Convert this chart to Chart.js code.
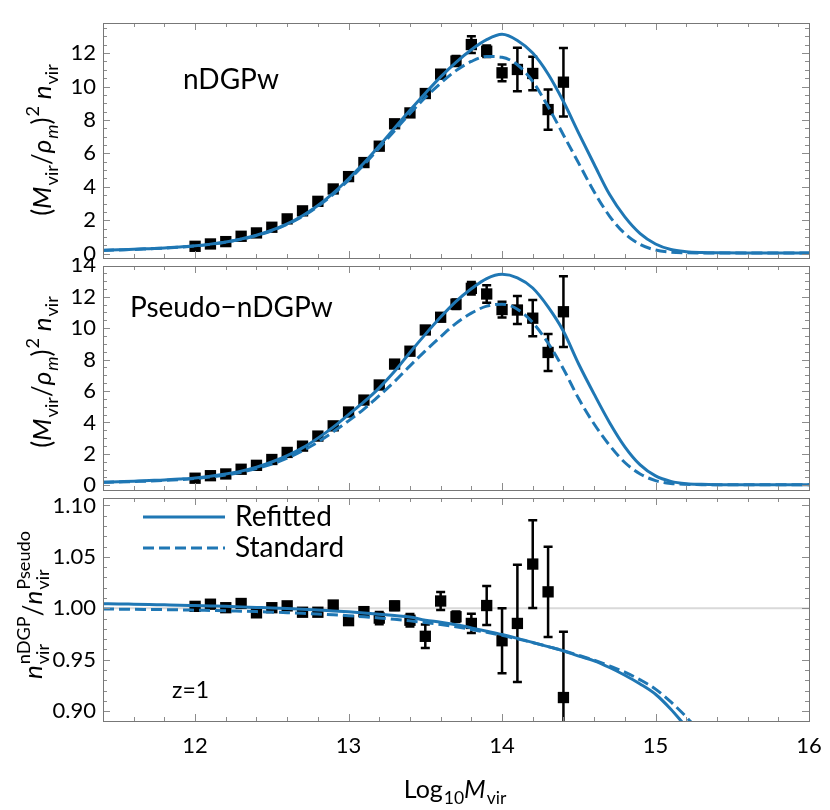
<!DOCTYPE html>
<html>
<head>
<meta charset="utf-8">
<script src="https://cdn.jsdelivr.net/npm/chart.js@4.4.1/dist/chart.umd.min.js"></script>
<style>
  body { margin: 0; background: #fff; }
  #wrap { position: relative; width: 830px; height: 810px; }
  #wrap canvas { position: absolute; left: 0; }
</style>
</head>
<body>
<div id="wrap">
  <canvas id="ratioChart" width="830" height="320" style="top:490px;z-index:1"></canvas>
  <canvas id="pseudoChart" width="830" height="246" style="top:258px;z-index:2"></canvas>
  <canvas id="ndgpChart" width="830" height="272" style="top:0;z-index:3"></canvas>
</div>
<script>
// dados medidos (pontos com barras de erro)
const massX = [12.0, 12.1, 12.2, 12.3, 12.4, 12.5, 12.6, 12.7, 12.8, 12.9, 13.0, 13.1, 13.2,
               13.3, 13.4, 13.5, 13.6, 13.7, 13.8, 13.9, 14.0, 14.1, 14.2, 14.3, 14.4];
const nDGPwVals = [0.44, 0.58, 0.72, 1.04, 1.24, 1.58, 2.08, 2.56, 3.13, 3.87, 4.61, 5.45, 6.43,
                   7.77, 8.42, 9.58, 10.74, 11.52, 12.51, 12.11, 10.82, 11.02, 10.78, 8.62, 10.26];
const nDGPwErr = [0.03, 0.03, 0.04, 0.04, 0.05, 0.05, 0.06, 0.07, 0.08, 0.09, 0.1, 0.11, 0.13,
                  0.15, 0.17, 0.2, 0.24, 0.3, 0.5, 0.35, 0.5, 1.3, 1.0, 1.2, 2.05];
const pseudoVals = [0.45, 0.61, 0.72, 1.02, 1.27, 1.64, 2.09, 2.49, 3.13, 3.78, 4.66, 5.42, 6.38,
                    7.71, 8.53, 9.88, 10.69, 11.52, 12.53, 12.17, 11.18, 11.15, 10.63, 8.45, 11.04];
const pseudoErr = [0.03, 0.03, 0.04, 0.04, 0.05, 0.05, 0.06, 0.07, 0.08, 0.09, 0.1, 0.11, 0.13,
                   0.15, 0.17, 0.2, 0.24, 0.3, 0.4, 0.55, 0.5, 0.89, 1.15, 1.18, 2.25];
const ratioVals = [1.0019, 1.0040, 1.0006, 1.0047, 0.9956, 1.0006, 1.0024, 0.9962, 0.9962, 1.0032,
                   0.9880, 0.9968, 0.9905, 1.0024, 0.9884, 0.9728, 1.0071, 0.9918, 0.9853, 1.0027,
                   0.9685, 0.9853, 1.0430, 1.0160, 0.9133];
const ratioErr = [0.002, 0.002, 0.002, 0.002, 0.002, 0.002, 0.002, 0.002, 0.002, 0.002,
                  0.003, 0.003, 0.006, 0.004, 0.006, 0.0114, 0.0088, 0.005, 0.0094, 0.019,
                  0.0316, 0.057, 0.0427, 0.0438, 0.064];

// curvas (ajuste)
const curveX = [11.4, 11.5, 11.6, 11.7, 11.8, 11.9, 12.0, 12.1, 12.2, 12.3, 12.4, 12.5, 12.6, 12.7,
                12.8, 12.9, 13.0, 13.1, 13.2, 13.3, 13.4, 13.5, 13.6, 13.7, 13.8, 13.9, 14.0, 14.1,
                14.2, 14.3, 14.4, 14.5, 14.6, 14.7, 14.8, 14.9, 15.0, 15.1, 15.2, 15.3, 15.4, 15.6,
                15.8, 16.0];
const refitTop = [0.20, 0.23, 0.26, 0.30, 0.34, 0.40, 0.47, 0.57, 0.70, 0.88, 1.10, 1.40, 1.78, 2.27,
                  2.88, 3.62, 4.48, 5.42, 6.45, 7.52, 8.58, 9.60, 10.58, 11.45, 12.20, 12.80, 13.12,
                  12.75, 12.00, 10.75, 9.10, 7.20, 5.35, 3.55, 2.20, 1.20, 0.58, 0.25, 0.12, 0.07,
                  0.05, 0.04, 0.04, 0.04];
const standardTop = [0.19, 0.22, 0.25, 0.29, 0.33, 0.39, 0.46, 0.56, 0.69, 0.86, 1.08, 1.37, 1.75, 2.23,
                     2.83, 3.55, 4.40, 5.32, 6.32, 7.36, 8.38, 9.34, 10.20, 10.95, 11.50, 11.80, 11.75,
                     11.30, 10.30, 8.80, 7.10, 5.40, 3.70, 2.25, 1.20, 0.55, 0.22, 0.09, 0.05, 0.04,
                     0.04, 0.04, 0.04, 0.04];
const refitMid = [0.20, 0.23, 0.26, 0.30, 0.34, 0.40, 0.47, 0.58, 0.72, 0.90, 1.15, 1.48, 1.88, 2.38,
                  3.00, 3.70, 4.50, 5.30, 6.20, 7.25, 8.45, 9.60, 10.70, 11.70, 12.50, 13.15, 13.42,
                  13.20, 12.55, 11.35, 9.80, 7.70, 5.80, 4.00, 2.45, 1.30, 0.60, 0.25, 0.10, 0.06,
                  0.04, 0.03, 0.03, 0.03];
const standardMid = [0.19, 0.21, 0.24, 0.27, 0.31, 0.36, 0.43, 0.53, 0.66, 0.83, 1.06, 1.35, 1.72, 2.20,
                     2.75, 3.40, 4.10, 4.85, 5.70, 6.60, 7.60, 8.55, 9.45, 10.30, 10.95, 11.40, 11.52,
                     11.20, 10.35, 9.05, 7.40, 5.50, 3.90, 2.55, 1.45, 0.72, 0.30, 0.12, 0.06, 0.04,
                     0.03, 0.03, 0.03, 0.03];
const refitRatio = [1.0045, 1.0043, 1.0040, 1.0037, 1.0034, 1.0031, 1.0027, 1.0023, 1.0019, 1.0014,
                    1.0009, 1.0004, 0.9998, 0.9991, 0.9983, 0.9975, 0.9966, 0.9955, 0.9943, 0.9930,
                    0.9915, 0.9885, 0.9865, 0.9840, 0.9810, 0.9778, 0.9745, 0.9708, 0.9668, 0.9628,
                    0.9587, 0.9535, 0.9490, 0.9425, 0.9350, 0.9265, 0.9165, 0.9020, 0.8850, 0.8700,
                    0.8550, 0.8200, 0.7800, 0.7400];
const standardRatio = [0.9993, 0.9992, 0.9991, 0.9989, 0.9987, 0.9985, 0.9982, 0.9979, 0.9976, 0.9972,
                       0.9968, 0.9963, 0.9958, 0.9952, 0.9945, 0.9937, 0.9928, 0.9918, 0.9906, 0.9893,
                       0.9878, 0.9861, 0.9842, 0.9820, 0.9795, 0.9767, 0.9737, 0.9703, 0.9667, 0.9628,
                       0.9588, 0.9543, 0.9495, 0.9440, 0.9380, 0.9305, 0.9215, 0.9090, 0.8945, 0.8780,
                       0.8600, 0.8300, 0.7900, 0.7500];

// eixos
const xTicks = [12, 13, 14, 15, 16];
const yTicksTop = [0, 2, 4, 6, 8, 10, 12];
const yTicksMid = [0, 2, 4, 6, 8, 10, 12, 14];
const yTicksRatio = [0.90, 0.95, 1.00, 1.05, 1.10];
const legendLabels = ['Refitted', 'Standard'];
const panelLabels = ['nDGPw', 'Pseudo\u2212nDGPw', 'z=1'];

const BLUE = '#1f77b4';
const FONT = 'Lato, "DejaVu Sans", sans-serif';
Chart.defaults.font.family = FONT;

function pts(xs, ys) {
    return xs.map((x, i) => ({ x: x, y: ys[i] }));
}

function fontStr(size, italic) {
    return (italic ? 'italic ' : '') + size + 'px ' + FONT;
}

// texto com sub/sobrescrito
function rich(ctx, parts, size, draw) {
    let x = 0;
    parts.forEach(p => {
        if (p.t !== undefined) {
            ctx.font = fontStr(size, p.it);
            if (draw) ctx.fillText(p.t, x, 0);
            x += ctx.measureText(p.t).width;
        } else {
            const s = size * 0.7;
            let w = 0;
            if (p.sub) {
                ctx.font = fontStr(s, p.subIt);
                if (draw) ctx.fillText(p.sub, x + 1, size * 0.25);
                w = Math.max(w, ctx.measureText(p.sub).width + 1);
            }
            if (p.sup) {
                ctx.font = fontStr(s, false);
                if (draw) ctx.fillText(p.sup, x + 1, -size * 0.45);
                w = Math.max(w, ctx.measureText(p.sup).width + 1);
            }
            x += w;
        }
    });
    return x;
}

function richCentered(ctx, parts, size, cx, cy, rotate) {
    ctx.save();
    ctx.fillStyle = '#000';
    ctx.textBaseline = 'alphabetic';
    ctx.textAlign = 'left';
    ctx.translate(cx, cy);
    if (rotate) ctx.rotate(-Math.PI / 2);
    const w = rich(ctx, parts, size, false);
    ctx.translate(-w / 2, 0);
    rich(ctx, parts, size, true);
    ctx.restore();
}

const ylabelMain = [{ t: '(' }, { t: 'M', it: true }, { sub: 'vir' }, { t: '/' }, { t: '\u03c1', it: true },
                    { sub: 'm', subIt: true }, { t: ')' }, { sup: '2' }, { t: ' ' }, { t: 'n', it: true }, { sub: 'vir' }];
const ylabelRatio = [{ t: 'n', it: true }, { sub: 'vir', sup: 'nDGP' }, { t: '/' }, { t: 'n', it: true },
                     { sub: 'vir', sup: 'Pseudo' }];
const xlabel = [{ t: 'Log' }, { sub: '10' }, { t: 'M', it: true }, { sub: 'vir' }];

function steps(min, max, step) {
    const out = [];
    for (let k = Math.ceil(min / step - 1e-6); k <= Math.floor(max / step + 1e-6); k++) out.push(k * step);
    return out;
}

function drawFrame(chart, o) {
    const { ctx, chartArea: a, scales: { x, y } } = chart;
    const isMajor = (v, list) => list.some(t => Math.abs(t - v) < 1e-6);
    ctx.save();
    ctx.strokeStyle = '#8c8c8c';
    ctx.lineWidth = 1;
    ctx.beginPath();
    steps(x.min, x.max, 0.2).forEach(v => {
        const L = isMajor(v, xTicks) ? 7 : 4;
        const px = Math.round(x.getPixelForValue(v)) + 0.5;
        ctx.moveTo(px, a.bottom); ctx.lineTo(px, a.bottom - L);
        ctx.moveTo(px, a.top); ctx.lineTo(px, a.top + L);
    });
    steps(y.min, y.max, o.yMinor).forEach(v => {
        const L = isMajor(v, o.yTicks) ? 7 : 4;
        const py = Math.round(y.getPixelForValue(v)) + 0.5;
        ctx.moveTo(a.left, py); ctx.lineTo(a.left + L, py);
        ctx.moveTo(a.right, py); ctx.lineTo(a.right - L, py);
    });
    ctx.stroke();
    ctx.strokeStyle = '#777';
    ctx.strokeRect(Math.round(a.left) + 0.5, Math.round(a.top) + 0.5,
                   Math.round(a.right - a.left), Math.round(a.bottom - a.top));
    ctx.restore();
}

function panel(id, o) {
    const extras = {
        id: 'extras_' + id,
        beforeDatasetsDraw(chart) {
            const { ctx, chartArea: a, scales: { x, y } } = chart;
            ctx.save();
            ctx.beginPath();
            ctx.rect(a.left, a.top, a.right - a.left, a.bottom - a.top);
            ctx.clip();
            if (o.refLevel !== undefined) {
                const py = y.getPixelForValue(o.refLevel);
                ctx.strokeStyle = '#d9d9d9';
                ctx.lineWidth = 2;
                ctx.beginPath();
                ctx.moveTo(a.left, py); ctx.lineTo(a.right, py);
                ctx.stroke();
            }
            // barras de erro
            ctx.strokeStyle = '#000';
            ctx.lineWidth = 2.5;
            massX.forEach((m, i) => {
                const px = x.getPixelForValue(m);
                const y1 = y.getPixelForValue(o.vals[i] + o.errs[i]);
                const y2 = y.getPixelForValue(o.vals[i] - o.errs[i]);
                ctx.beginPath();
                ctx.moveTo(px, y1); ctx.lineTo(px, y2);
                ctx.moveTo(px - 4.5, y1); ctx.lineTo(px + 4.5, y1);
                ctx.moveTo(px - 4.5, y2); ctx.lineTo(px + 4.5, y2);
                ctx.stroke();
            });
            ctx.restore();
        },
        afterDraw(chart) {
            drawFrame(chart, o);
            o.decorate(chart.ctx, chart);
        }
    };

    return new Chart(document.getElementById(id), {
        type: 'scatter',
        data: {
            datasets: [
                { type: 'line', data: pts(curveX, o.refit), borderColor: BLUE, borderWidth: 3,
                  pointRadius: 0, cubicInterpolationMode: 'monotone', fill: false },
                { type: 'line', data: pts(curveX, o.standard), borderColor: BLUE, borderWidth: 3,
                  borderDash: [11, 5], pointRadius: 0, cubicInterpolationMode: 'monotone', fill: false },
                { data: pts(massX, o.vals), pointStyle: 'rect', pointRadius: 8,
                  backgroundColor: '#000', borderWidth: 0 }
            ]
        },
        options: {
            responsive: false,
            animation: false,
            events: [],
            layout: { padding: o.padding },
            plugins: { legend: { display: false }, tooltip: { enabled: false } },
            scales: {
                x: {
                    type: 'linear', min: 11.4, max: 16, display: o.showX,
                    grid: { display: false, drawTicks: false }, border: { display: false },
                    afterBuildTicks: s => { s.ticks = xTicks.map(v => ({ value: v })); },
                    afterFit: s => { s.height = o.xHeight || 0; s.paddingLeft = 0; s.paddingRight = 0; },
                    ticks: { padding: 12, color: '#000', font: { size: 22 }, maxRotation: 0,
                             autoSkip: false, callback: v => String(v) }
                },
                y: {
                    type: 'linear', min: o.yMin, max: o.yMax,
                    grid: { display: false, drawTicks: false }, border: { display: false },
                    afterBuildTicks: s => { s.ticks = o.yTicks.map(v => ({ value: v })); },
                    afterFit: s => { s.width = 103; s.paddingTop = 0; s.paddingBottom = 0; },
                    ticks: { padding: 7, color: '#000', font: { size: 22 }, autoSkip: false,
                             callback: o.fmt }
                }
            }
        },
        plugins: [extras]
    });
}

// painel de cima
panel('ndgpChart', {
    vals: nDGPwVals, errs: nDGPwErr, refit: refitTop, standard: standardTop,
    yMin: -0.26, yMax: 13.8, yTicks: yTicksTop, yMinor: 0.5, fmt: v => String(v),
    padding: { top: 23, bottom: 14, left: 0, right: 21 }, showX: false,
    decorate(ctx) {
        ctx.save();
        ctx.fillStyle = '#000';
        ctx.font = fontStr(28, false);
        ctx.textBaseline = 'alphabetic';
        ctx.fillText(panelLabels[0], 183, 89);
        ctx.restore();
        richCentered(ctx, ylabelMain, 26, 51, 140, true);
    }
});

// painel do meio
panel('pseudoChart', {
    vals: pseudoVals, errs: pseudoErr, refit: refitMid, standard: standardMid,
    yMin: -0.3, yMax: 13.95, yTicks: yTicksMid, yMinor: 0.5, fmt: v => String(v),
    padding: { top: 0, bottom: 14, left: 0, right: 21 }, showX: false,
    decorate(ctx) {
        ctx.save();
        ctx.fillStyle = '#000';
        ctx.font = fontStr(28, false);
        ctx.textBaseline = 'alphabetic';
        ctx.fillText(panelLabels[1], 130, 59);
        ctx.restore();
        richCentered(ctx, ylabelMain, 26, 51, 114, true);
    }
});

// razão
panel('ratioChart', {
    vals: ratioVals, errs: ratioErr, refit: refitRatio, standard: standardRatio,
    yMin: 0.8905, yMax: 1.1072, yTicks: yTicksRatio, yMinor: 0.01, fmt: v => v.toFixed(2),
    padding: { top: 0, bottom: 0, left: 0, right: 21 }, showX: true, xHeight: 89, refLevel: 1.0,
    decorate(ctx) {
        ctx.save();
        // legenda
        ctx.strokeStyle = BLUE;
        ctx.lineWidth = 3;
        ctx.beginPath(); ctx.moveTo(143, 27); ctx.lineTo(225, 27); ctx.stroke();
        ctx.setLineDash([11, 5]);
        ctx.beginPath(); ctx.moveTo(143, 58); ctx.lineTo(225, 58); ctx.stroke();
        ctx.setLineDash([]);
        ctx.fillStyle = '#000';
        ctx.font = fontStr(28, false);
        ctx.textBaseline = 'middle';
        ctx.fillText(legendLabels[0], 235, 27);
        ctx.fillText(legendLabels[1], 235, 58);
        ctx.font = fontStr(23, false);
        ctx.textBaseline = 'alphabetic';
        ctx.fillText(panelLabels[2], 172, 208);
        ctx.restore();
        richCentered(ctx, ylabelRatio, 26, 42, 115, true);
        richCentered(ctx, xlabel, 25, 455, 308, false);
    }
});
</script>
</body>
</html>
